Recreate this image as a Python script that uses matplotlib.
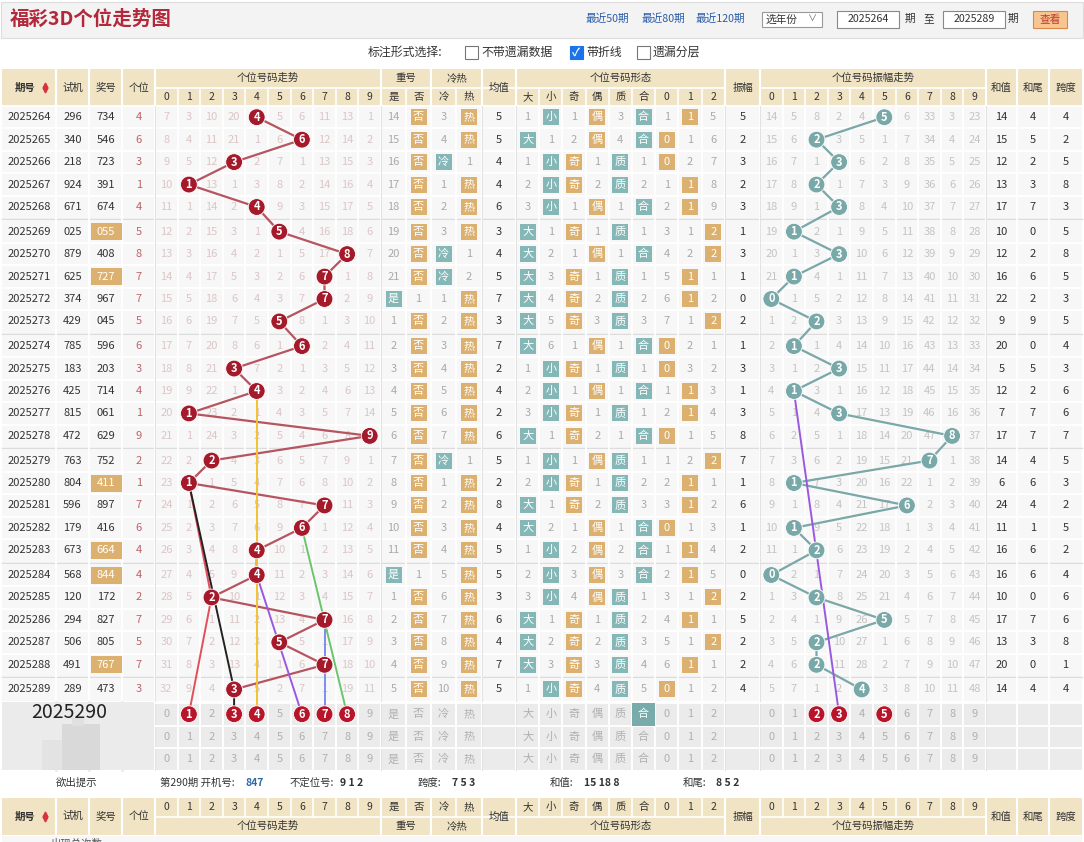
import matplotlib
matplotlib.use("Agg")
import matplotlib.pyplot as plt
from matplotlib.patches import Rectangle, Circle

plt.rcParams['font.family'] = ['Noto Sans CJK SC', 'DejaVu Sans']

# ---- data ----
periods = ["2025264", "2025265", "2025266", "2025267", "2025268", "2025269", "2025270",
           "2025271", "2025272", "2025273", "2025274", "2025275", "2025276", "2025277",
           "2025278", "2025279", "2025280", "2025281", "2025282", "2025283", "2025284",
           "2025285", "2025286", "2025287", "2025288", "2025289"]
test_nums = ["296", "340", "218", "924", "671", "025", "879", "625", "374", "429", "785",
             "183", "425", "815", "472", "763", "804", "596", "179", "673", "568", "120",
             "294", "506", "491", "289"]
draw_nums = ["734", "546", "723", "391", "674", "055", "408", "727", "967", "045", "596",
             "203", "714", "061", "629", "752", "411", "897", "416", "664", "844", "172",
             "827", "805", "767", "473"]
units = [4, 6, 3, 1, 4, 5, 8, 7, 7, 5, 6, 3, 4, 1, 9, 2, 1, 7, 6, 4, 4, 2, 7, 5, 7, 3]

# omission counts for unit digit 0-9 ("*" = hit)
miss_rows = [
    "7 3 10 20 * 5 6 11 13 1", "8 4 11 21 1 6 * 12 14 2", "9 5 12 * 2 7 1 13 15 3",
    "10 * 13 1 3 8 2 14 16 4", "11 1 14 2 * 9 3 15 17 5", "12 2 15 3 1 * 4 16 18 6",
    "13 3 16 4 2 1 5 17 * 7", "14 4 17 5 3 2 6 * 1 8", "15 5 18 6 4 3 7 * 2 9",
    "16 6 19 7 5 * 8 1 3 10", "17 7 20 8 6 1 * 2 4 11", "18 8 21 * 7 2 1 3 5 12",
    "19 9 22 1 * 3 2 4 6 13", "20 * 23 2 1 4 3 5 7 14", "21 1 24 3 2 5 4 6 8 *",
    "22 2 * 4 3 6 5 7 9 1", "23 * 1 5 4 7 6 8 10 2", "24 1 2 6 5 8 7 * 11 3",
    "25 2 3 7 6 9 * 1 12 4", "26 3 4 8 * 10 1 2 13 5", "27 4 5 9 * 11 2 3 14 6",
    "28 5 * 10 1 12 3 4 15 7", "29 6 1 11 2 13 4 * 16 8", "30 7 2 12 3 * 5 1 17 9",
    "31 8 3 13 4 1 6 * 18 10", "32 9 4 * 5 2 7 1 19 11"]

# 重号 (是 否) and 冷热 (冷 热); [x] = highlighted tag
repeat_rows = ["14 [否]", "15 [否]", "16 [否]", "17 [否]", "18 [否]", "19 [否]", "20 [否]",
               "21 [否]", "[是] 1", "1 [否]", "2 [否]", "3 [否]", "4 [否]", "5 [否]",
               "6 [否]", "7 [否]", "8 [否]", "9 [否]", "10 [否]", "11 [否]", "[是] 1",
               "1 [否]", "2 [否]", "3 [否]", "4 [否]", "5 [否]"]
coldhot_rows = ["3 [热]", "4 [热]", "[冷] 1", "1 [热]", "2 [热]", "3 [热]", "[冷] 1",
                "[冷] 2", "1 [热]", "2 [热]", "3 [热]", "4 [热]", "5 [热]", "6 [热]",
                "7 [热]", "[冷] 1", "1 [热]", "2 [热]", "3 [热]", "4 [热]", "5 [热]",
                "6 [热]", "7 [热]", "8 [热]", "9 [热]", "10 [热]"]
avg_vals = [5, 5, 4, 4, 6, 3, 4, 5, 7, 3, 7, 2, 4, 2, 6, 5, 2, 8, 4, 5, 5, 3, 6, 4, 7, 5]

# 形态: 大 小 奇 偶 质 合 0 1 2
form_rows = [
    "1 [小] 1 [偶] 3 [合] 1 [1] 5", "[大] 1 2 [偶] 4 [合] [0] 1 6",
    "1 [小] [奇] 1 [质] 1 [0] 2 7", "2 [小] [奇] 2 [质] 2 1 [1] 8",
    "3 [小] 1 [偶] 1 [合] 2 [1] 9", "[大] 1 [奇] 1 [质] 1 3 1 [2]",
    "[大] 2 1 [偶] 1 [合] 4 2 [2]", "[大] 3 [奇] 1 [质] 1 5 [1] 1",
    "[大] 4 [奇] 2 [质] 2 6 [1] 2", "[大] 5 [奇] 3 [质] 3 7 1 [2]",
    "[大] 6 1 [偶] 1 [合] [0] 2 1", "1 [小] [奇] 1 [质] 1 [0] 3 2",
    "2 [小] 1 [偶] 1 [合] 1 [1] 3", "3 [小] [奇] 1 [质] 1 2 [1] 4",
    "[大] 1 [奇] 2 1 [合] [0] 1 5", "1 [小] 1 [偶] [质] 1 1 2 [2]",
    "2 [小] [奇] 1 [质] 2 2 [1] 1", "[大] 1 [奇] 2 [质] 3 3 [1] 2",
    "[大] 2 1 [偶] 1 [合] [0] 1 3", "1 [小] 2 [偶] 2 [合] 1 [1] 4",
    "2 [小] 3 [偶] 3 [合] 2 [1] 5", "3 [小] 4 [偶] [质] 1 3 1 [2]",
    "[大] 1 [奇] 1 [质] 2 4 [1] 1", "[大] 2 [奇] 2 [质] 3 5 1 [2]",
    "[大] 3 [奇] 3 [质] 4 6 [1] 1", "1 [小] [奇] 4 [质] 5 [0] 1 2"]

amplitude = [5, 2, 3, 2, 3, 1, 3, 1, 0, 2, 1, 3, 1, 3, 8, 7, 1, 6, 1, 2, 0, 2, 5, 2, 2, 4]
amp_miss_rows = [
    "14 5 8 2 4 * 6 33 3 23", "15 6 * 3 5 1 7 34 4 24", "16 7 1 * 6 2 8 35 5 25",
    "17 8 * 1 7 3 9 36 6 26", "18 9 1 * 8 4 10 37 7 27", "19 * 2 1 9 5 11 38 8 28",
    "20 1 3 * 10 6 12 39 9 29", "21 * 4 1 11 7 13 40 10 30", "* 1 5 2 12 8 14 41 11 31",
    "1 2 * 3 13 9 15 42 12 32", "2 * 1 4 14 10 16 43 13 33", "3 1 2 * 15 11 17 44 14 34",
    "4 * 3 1 16 12 18 45 15 35", "5 1 4 * 17 13 19 46 16 36", "6 2 5 1 18 14 20 47 * 37",
    "7 3 6 2 19 15 21 * 1 38", "8 * 7 3 20 16 22 1 2 39", "9 1 8 4 21 17 * 2 3 40",
    "10 * 9 5 22 18 1 3 4 41", "11 1 * 6 23 19 2 4 5 42", "* 2 1 7 24 20 3 5 6 43",
    "1 3 * 8 25 21 4 6 7 44", "2 4 1 9 26 * 5 7 8 45", "3 5 * 10 27 1 6 8 9 46",
    "4 6 * 11 28 2 7 9 10 47", "5 7 1 2 * 3 8 10 11 48"]
sums = [14, 15, 12, 13, 17, 10, 12, 16, 22, 9, 20, 5, 12, 7, 17, 14, 6, 24, 11, 16, 16,
        10, 17, 13, 20, 14]
sum_tails = [4, 5, 2, 3, 7, 0, 2, 6, 2, 9, 0, 5, 2, 7, 7, 4, 6, 4, 1, 6, 6, 0, 7, 3, 0, 4]
spans = [4, 2, 5, 8, 3, 5, 8, 5, 3, 5, 4, 3, 6, 6, 7, 5, 3, 2, 5, 2, 4, 6, 6, 8, 1, 4]

next_period = "2025290"
pred_units = [1, 3, 4, 6, 7, 8]
pred_amps = [2, 3, 5]
pred_form = "合"
# user-drawn guide lines: (colour, [(row, digit), ...]); row 26 = next period
guide_lines = [("#f2c230", [(12, 4), (26, 4)]),
               ("#e0505a", [(16, 1), (21, 2), (26, 1)]),
               ("#222222", [(16, 1), (25, 3), (26, 3)]),
               ("#6cc46c", [(18, 6), (26, 8)]),
               ("#9a58e0", [(20, 4), (26, 6)]),
               ("#7d8ef0", [(22, 7), (26, 7)])]
amp_guide_lines = [("#9a58e0", [(12, 1), (26, 3)])]

# ---- canvas ----
W, H = 1084, 842
fig = plt.figure(figsize=(W / 100, H / 100), dpi=100)
ax = fig.add_axes([0, 0, 1, 1])
ax.set_xlim(0, W)
ax.set_ylim(H, 0)
ax.axis("off")

BEIGE = "#f0e4c4"
ORANGE = "#dcb06e"
TEAL = "#86b7b7"
DARKRED = "#a51a2b"
CIRC_TEAL = "#78a8a8"
TEAL_TAGS = set("大小质合是冷")

CW = 22.6
TR0, AM0 = 155, 760
left_cols = [(2, 56), (56, 89), (89, 122), (122, 155)]
rep_cols = [(381, 406), (406, 431)]
ch_cols = [(431, 456), (456, 482)]
avg_col = (482, 516)
form_x0, form_w = 516, 23.2
amp_col = (725, 760)
tail_cols = [(986, 1017), (1017, 1049), (1049, 1082)]


def tx(d):
    return TR0 + CW * (d + 0.5)


def axx(d):
    return AM0 + CW * (d + 0.5)


def fx(k):
    return form_x0 + form_w * (k + 0.5)


def row_top(i):
    if i >= 26:
        return 703 + (i - 26) * 22.5
    return 106 + i * 22.45 + (i // 5) * 2.2


def row_cy(i):
    return row_top(i) + 11.2


def txt(x, y, s, color="#333333", size=8, weight="normal", ha="center", z=5):
    ax.text(x, y, s, color=color, fontsize=size, fontweight=weight, ha=ha, va="center", zorder=z)


def tag(x, y, s, fc):
    ax.add_patch(Rectangle((x - 8, y - 8), 16, 16, fc=fc, ec="none", zorder=3))
    txt(x, y, s, color="white", size=8, z=4)


def ball(x, y, s, fc):
    ax.add_patch(Circle((x, y), 8.4, fc=fc, ec="white", lw=0.6, zorder=6))
    txt(x, y, s, color="white", size=8, weight="bold", z=7)


def tagged_cells(xs, y, spec, plain_color="#aaaaaa"):
    for x, s in zip(xs, spec.split()):
        if s.startswith("["):
            lab = s[1:-1]
            tag(x, y, lab, TEAL if lab in TEAL_TAGS else ORANGE)
        else:
            txt(x, y, s, color=plain_color)


# ---- top bar ----
ax.add_patch(Rectangle((1, 2), W - 2, 36, fc="#f3f3f3", ec="#dddddd", lw=0.8, zorder=0))
txt(10, 19, "福彩3D个位走势图", color="#b3283a", size=14, weight="bold", ha="left")
for x, s in [(607, "最近50期"), (663, "最近80期"), (720, "最近120期")]:
    txt(x, 19, s, color="#2a5caa", size=7.7)
ax.add_patch(Rectangle((762, 12), 60, 15, fc="white", ec="#999999", lw=0.8, zorder=1))
txt(766, 19.5, "选年份", size=7.7, ha="left")
txt(812, 19.5, "∨", size=6.5, color="#666666")
for x0, s in [(837, "2025264"), (943, "2025289")]:
    ax.add_patch(Rectangle((x0, 11), 62, 17, fc="white", ec="#888888", lw=0.8, zorder=1))
    txt(x0 + 31, 19.5, s, size=7.7)
txt(910, 19, "期", size=7.7)
txt(929, 19, "至", size=7.7)
txt(1013, 19, "期", size=7.7)
ax.add_patch(Rectangle((1033, 11), 34, 17, fc="#f8c590", ec="#d8894a", lw=0.8, zorder=1))
txt(1050, 19.5, "查看", color="#c0392b", size=7.7)

# checkbox row
txt(368, 52, "标注形式选择:", size=8.6, ha="left")
for x0, lab, on in [(465, "不带遗漏数据", False), (570, "带折线", True), (637, "遗漏分层", False)]:
    ax.add_patch(Rectangle((x0, 46), 12.5, 13, fc="#1a73e8" if on else "white",
                           ec="#1a73e8" if on else "#777777", lw=0.8, zorder=2))
    if on:
        txt(x0 + 6.2, 52.5, "✓", color="white", size=8, weight="bold", z=3)
    txt(x0 + 16, 52, lab, size=8.6, ha="left")


# ---- header ----
def header(y0, top_first=True):
    h = 37
    yh = y0 + h / 2
    y_top = y0 + 9.2 if top_first else y0 + 27.8
    y_sub = y0 + 27.8 if top_first else y0 + 9.2
    ax.add_patch(Rectangle((2, y0), W - 4, h, fc=BEIGE, ec="none", zorder=0))
    for (a, b), s in zip(left_cols, ["期号", "试机", "奖号", "个位"]):
        txt((a + b) / 2 - (4 if s == "期号" else 0), yh, s, size=7.5,
            weight="bold" if s == "期号" else "normal")
    ax.plot([44.5], [yh - 3], marker="^", ms=3.5, color="#d8323f", ls="none", zorder=5)
    ax.plot([44.5], [yh + 2.5], marker="v", ms=3.5, color="#d8323f", ls="none", zorder=5)
    groups = [((TR0, TR0 + 10 * CW), "个位号码走势"), ((381, 431), "重号"), ((431, 482), "冷热"),
              ((516, 725), "个位号码形态"), ((AM0, AM0 + 10 * CW), "个位号码振幅走势")]
    for (a, b), s in groups:
        txt((a + b) / 2, y_top, s, size=7.5)
    for d in range(10):
        txt(tx(d), y_sub, str(d), size=7.5)
        txt(axx(d), y_sub, str(d), size=7.5)
    for (a, b), s in zip(rep_cols + ch_cols, ["是", "否", "冷", "热"]):
        txt((a + b) / 2, y_sub, s, size=7.5)
    for k, s in enumerate(["大", "小", "奇", "偶", "质", "合", "0", "1", "2"]):
        txt(fx(k), y_sub, s, size=7.5)
    for (a, b), s in [(avg_col, "均值"), (amp_col, "振幅")] + list(zip(tail_cols, ["和值", "和尾", "跨度"])):
        txt((a + b) / 2, yh, s, size=7.5)
    # white grid in header
    ysplit = y0 + 18.5
    for a, b in [(TR0, TR0 + 10 * CW), (381, 725), (AM0, AM0 + 10 * CW)]:
        ax.plot([a, b], [ysplit, ysplit], color="white", lw=1.2, zorder=1)
    full = [56, 89, 122, 155, 381, 431, 482, 516, 725, 760, 986, 1017, 1049]
    for x in full:
        ax.plot([x, x], [y0, y0 + h], color="white", lw=1.5, zorder=1)
    subs = [TR0 + CW * d for d in range(1, 10)] + [AM0 + CW * d for d in range(1, 10)] + \
           [406, 456] + [form_x0 + form_w * k for k in range(1, 9)]
    for x in subs:
        ya, yb = (ysplit, y0 + h) if top_first else (y0, ysplit)
        ax.plot([x, x], [ya, yb], color="white", lw=1.2, zorder=1)


header(69, True)

# ---- data rows ----
ax.add_patch(Rectangle((2, 106), W - 4, 595, fc="#f7f7f7", ec="none", zorder=0))
nrows = len(periods)
for i in range(nrows):
    y = row_cy(i)
    top = row_top(i)
    ax.plot([2, W - 2], [top, top], color="white", lw=1.3, zorder=1)
    if i % 5 == 0 and i > 0:
        ax.plot([2, W - 2], [top - 1.1, top - 1.1], color="#dcdcdc", lw=1.0, zorder=1)
    txt(29, y, periods[i])
    txt(72.5, y, test_nums[i])
    if len(set(draw_nums[i])) < 3:
        ax.add_patch(Rectangle((91, y - 8.5), 31, 17, fc=ORANGE, ec="none", zorder=3))
        txt(106, y, draw_nums[i], color="white")
    else:
        txt(106, y, draw_nums[i])
    txt(139, y, str(units[i]), color="#c0606a")
    for d, s in enumerate(miss_rows[i].split()):
        if s != "*":
            txt(tx(d), y, s, color="#dcc6c6", z=2)
    tagged_cells([393.5, 418.5], y, repeat_rows[i])
    tagged_cells([443.5, 469], y, coldhot_rows[i])
    txt(499, y, str(avg_vals[i]))
    tagged_cells([fx(k) for k in range(9)], y, form_rows[i])
    txt(742.5, y, str(amplitude[i]))
    for d, s in enumerate(amp_miss_rows[i].split()):
        if s != "*":
            txt(axx(d), y, s, color="#c4c4c4", z=2)
    for (a, b), v in zip(tail_cols, [sums[i], sum_tails[i], spans[i]]):
        txt((a + b) / 2, y, str(v))

# vertical grid
for x in [56, 89, 122, 155, 381, 406, 431, 456, 482, 516, 725, 760, 986, 1017, 1049] + \
        [TR0 + CW * d for d in range(1, 10)] + [AM0 + CW * d for d in range(1, 10)] + \
        [form_x0 + form_w * k for k in range(1, 9)]:
    ax.plot([x, x], [106, 770], color="white", lw=1.3, zorder=1)
for x in [155, 381, 482, 516, 725, 760, 986]:
    ax.plot([x, x], [106, 770], color="#e2e2e2", lw=0.7, zorder=1)

# trend lines and balls
ux = [tx(u) for u in units]
uy = [row_cy(i) for i in range(nrows)]
ax.plot(ux, uy, color="#b65560", lw=1.6, zorder=3, solid_capstyle="round")
for i in range(nrows):
    ball(ux[i], uy[i], str(units[i]), DARKRED)
axs = [axx(a) for a in amplitude]
ax.plot(axs, uy, color="#7aa7a7", lw=1.6, zorder=3)
for i in range(nrows):
    ball(axs[i], uy[i], str(amplitude[i]), CIRC_TEAL)

# ---- next-period rows ----
ax.add_patch(Rectangle((2, 702), W - 4, 68, fc="#ebebeb", ec="none", zorder=0.5))
for r in range(3):
    yt = row_top(26 + r)
    ax.plot([155, W - 2], [yt, yt], color="white", lw=1.3, zorder=1)
for x in [56, 89, 122]:
    ax.plot([x, x], [702, 770], color="#ebebeb", lw=2, zorder=1.5)
ax.add_patch(Rectangle((62, 724), 38, 46, fc="#d9d9d9", ec="none", zorder=1.6))
ax.add_patch(Rectangle((42, 740), 20, 30, fc="#e3e3e3", ec="none", zorder=1.6))
ax.add_patch(Rectangle((72, 718), 12, 8, fc="#e0e0e0", ec="none", zorder=1.6))
txt(69, 712, next_period, color="#222222", size=14)
for r in range(3):
    y = row_cy(26 + r)
    for d in range(10):
        if not (r == 0 and d in pred_units):
            txt(tx(d), y, str(d), color="#b0b0b0")
        if not (r == 0 and d in pred_amps):
            txt(axx(d), y, str(d), color="#b0b0b0")
    for x, s in zip([393.5, 418.5, 443.5, 469], ["是", "否", "冷", "热"]):
        txt(x, y, s, color="#b0b0b0")
    for k, s in enumerate(["大", "小", "奇", "偶", "质", "合", "0", "1", "2"]):
        if r == 0 and s == pred_form:
            ax.add_patch(Rectangle((form_x0 + form_w * k, row_top(26)), form_w, 22.5,
                                   fc="#7aabab", ec="none", zorder=2))
            txt(fx(k), y, s, color="white")
        else:
            txt(fx(k), y, s, color="#b0b0b0")

for col, pts in guide_lines:
    ax.plot([tx(d) for r, d in pts], [row_cy(r) for r, d in pts], color=col, lw=1.4, zorder=3)
for col, pts in amp_guide_lines:
    ax.plot([axx(d) for r, d in pts], [row_cy(r) for r, d in pts], color=col, lw=1.4, zorder=3)
yp = row_cy(26)
for d in pred_units:
    ball(tx(d), yp, str(d), "#b8142a")
for d in pred_amps:
    ball(axx(d), yp, str(d), "#b8142a")

# ---- hint row ----
ax.add_patch(Rectangle((2, 770), W - 4, 27, fc="white", ec="none", zorder=0.6))
yh = 783
txt(77, yh, "欲出提示", size=7.5)
txt(160, yh, "第290期 开机号:", size=7.5, ha="left")
txt(245, yh, "847", size=7.5, color="#2e6aa8", weight="bold", ha="left")
txt(290, yh, "不定位号:", size=7.5, ha="left")
txt(340, yh, "9 1 2", size=7.5, weight="bold", ha="left")
txt(418, yh, "跨度:", size=7.5, ha="left")
txt(452, yh, "7 5 3", size=7.5, weight="bold", ha="left")
txt(550, yh, "和值:", size=7.5, ha="left")
txt(584, yh, "15 18 8", size=7.5, weight="bold", ha="left")
txt(683, yh, "和尾:", size=7.5, ha="left")
txt(716, yh, "8 5 2", size=7.5, weight="bold", ha="left")

# ---- repeated header at bottom ----
header(798, False)
ax.add_patch(Rectangle((2, 836), W - 4, 10, fc="#f7f7f7", ec="none", zorder=0))
txt(77, 844, "出现总次数", size=7.5, color="#555555")

fig.savefig("out.png", dpi=100)
